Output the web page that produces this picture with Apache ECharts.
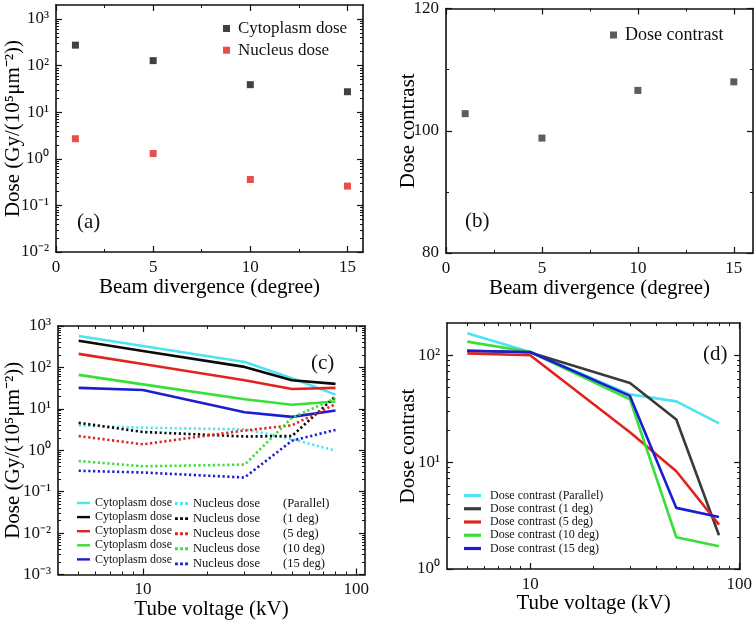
<!DOCTYPE html>
<html>
<head>
<meta charset="utf-8">
<script src="https://cdn.jsdelivr.net/npm/echarts@6/dist/echarts.min.js"></script>
<style>
  html, body { margin: 0; padding: 0; background: #fff; }
  #main { width: 755px; height: 621px; }
</style>
</head>
<body>
<div id="main"></div>
<script>
// panel (a) / (b): beam divergence
var divergence = [1, 5, 10, 15];
var cytoDoseA = [275, 128, 39, 27.5];
var nucDoseA = [2.7, 1.3, 0.36, 0.26];
var contrastB = [102.8, 98.8, 106.6, 108.0];

// panel (c) / (d): tube voltage
var voltage = [5, 10, 30, 50, 80];
var cytoParallel = [575, 329, 135, 55, 22];
var cyto1 = [440, 250, 103, 49, 40];
var cyto5 = [212, 121, 49, 30, 32];
var cyto10 = [66, 39, 17, 12.6, 15];
var cyto15 = [32, 28.6, 8.3, 6.4, 9.1];
var nucParallel = [4.0, 3.5, 3.2, 1.86, 0.98];
var nuc1 = [4.6, 2.76, 2.15, 2.2, 20];
var nuc5 = [2.2, 1.39, 3.0, 4.0, 13];
var nuc10 = [0.55, 0.41, 0.45, 6.1, 18];
var nuc15 = [0.32, 0.29, 0.22, 1.7, 3.1];
var contrastParallel = [160, 107, 43, 37, 23];
var contrast1 = [110, 106, 55, 25, 2.07];
var contrast5 = [104, 100, 19, 8.2, 2.6];
var contrast10 = [134, 107, 38.7, 1.98, 1.63];
var contrast15 = [110, 107, 41.6, 3.73, 3.07];

// ticks
var divTicks = [0, 5, 10, 15];
var divMinor = [2.5, 7.5, 12.5];
var doseTicks = [0.001, 0.01, 0.1, 1, 10, 100, 1000];
var contrastTicksB = [80, 100, 120];
var contrastMinorB = [90, 110];
var kvTicks = [10, 100];
var kvMinor = [5, 6, 7, 8, 9, 20, 30, 40, 50, 60, 70, 80, 90];
var contrastTicksD = [1, 10, 100];

var FONT = 'Liberation Serif';
var SUP = {'-': '\u207B', '0': '\u2070', '1': '\u00B9', '2': '\u00B2', '3': '\u00B3',
           '4': '\u2074', '5': '\u2075'};

var SOLID_ICON = 'path://M0,0h14v2.6h-14z';
var DOT_ICON = 'path://M0,0h2.6v2.6h-2.6zM4.6,0h2.6v2.6h-2.6zM9.2,0h2.6v2.6h-2.6z';

function pow10Label(v) {
    var e = String(Math.round(Math.log10(v)));
    var s = '';
    for (var i = 0; i < e.length; i++) s += SUP[e[i]];
    return '10' + s;
}

function logMinors(lo, hi) {
    var out = [];
    for (var d = lo; d < hi; d++) {
        for (var k = 2; k <= 9; k++) out.push(k * Math.pow(10, d));
    }
    return out;
}

function pairs(xs, ys) {
    return xs.map(function (x, i) { return [x, ys[i]]; });
}

// builds main + mirror axes (with a minor-tick twin for each side)
function axes(dim, grid, type, min, max, majors, minors, fmt, name, nameGap) {
    var sides = dim === 'x' ? ['bottom', 'top'] : ['left', 'right'];
    var out = [];
    sides.forEach(function (pos, i) {
        out.push({
            gridIndex: grid, type: type, min: min, max: max, position: pos,
            name: i === 0 ? name : '',
            nameLocation: 'middle', nameGap: nameGap, nameMoveOverlap: false,
            nameTextStyle: {fontFamily: FONT, fontSize: 21, color: '#000'},
            splitLine: {show: false},
            axisLine: {show: true, onZero: false, lineStyle: {color: '#111', width: 1.6}},
            axisTick: {show: true, inside: true, length: 6, customValues: majors,
                       lineStyle: {color: '#111', width: 1.2}},
            axisLabel: {show: i === 0, customValues: majors, formatter: fmt, margin: 7,
                        fontFamily: FONT, fontSize: 17, color: '#111'}
        });
        out.push({
            gridIndex: grid, type: type, min: min, max: max, position: pos,
            splitLine: {show: false},
            axisLine: {show: false, onZero: false},
            axisTick: {show: true, inside: true, length: 3, customValues: minors,
                       lineStyle: {color: '#111', width: 1}},
            axisLabel: {show: false}
        });
    });
    return out;
}

var plainFmt = function (v) { return String(v); };

var xAxes = [].concat(
    axes('x', 0, 'value', 0, 15.8, divTicks, divMinor, plainFmt, 'Beam divergence (degree)', 24.5),
    axes('x', 1, 'value', 0, 16, divTicks, divMinor, plainFmt, 'Beam divergence (degree)', 25),
    axes('x', 2, 'log', 4, 110, kvTicks, kvMinor, plainFmt, 'Tube voltage (kV)', 24.5),
    axes('x', 3, 'log', 4, 101, kvTicks, kvMinor, plainFmt, 'Tube voltage (kV)', 24)
);
var yAxes = [].concat(
    axes('y', 0, 'log', 0.01, 2000, doseTicks.slice(1), logMinors(-2, 3), pow10Label,
         'Dose (Gy/(10\u2075\u03BCm\u207B\u00B2))', 32),
    axes('y', 1, 'value', 80, 120, contrastTicksB, contrastMinorB, plainFmt, 'Dose contrast', 27.5),
    axes('y', 2, 'log', 0.001, 1000, doseTicks, logMinors(-3, 3), pow10Label,
         'Dose (Gy/(10\u2075\u03BCm\u207B\u00B2))', 34),
    axes('y', 3, 'log', 1, 200, contrastTicksD, logMinors(0, 2).filter(function (v) { return v < 200; }),
         pow10Label, 'Dose contrast', 28.5)
);

var C = {cyan: '#4fe3ef', black: '#0a0a0a', red: '#e1231d', green: '#36e036', blue: '#1c1cd2', grey: '#3a3a3a'};

function lineSeries(name, ax, ys, color, dotted) {
    return {
        name: name, type: 'line', xAxisIndex: ax, yAxisIndex: ax,
        data: pairs(voltage, ys), symbol: 'none', showSymbol: false,
        lineStyle: {color: color, width: 2.6, type: dotted ? [2.2, 2.6] : 'solid'},
        itemStyle: {color: color},
        animation: false
    };
}

var series = [
    {name: 'Cytoplasm dose', type: 'scatter', xAxisIndex: 0, yAxisIndex: 0,
     data: pairs(divergence, cytoDoseA), symbol: 'rect', symbolSize: 7, itemStyle: {color: '#111'}},
    {name: 'Nucleus dose', type: 'scatter', xAxisIndex: 0, yAxisIndex: 0,
     data: pairs(divergence, nucDoseA), symbol: 'rect', symbolSize: 7, itemStyle: {color: '#e1231d'}},
    {name: 'Dose contrast', type: 'scatter', xAxisIndex: 4, yAxisIndex: 4,
     data: pairs(divergence, contrastB), symbol: 'rect', symbolSize: 7, itemStyle: {color: '#333'}},

    lineSeries('Cytoplasm dose (Parallel)', 8, cytoParallel, C.cyan),
    lineSeries('Cytoplasm dose (1 deg)', 8, cyto1, C.black),
    lineSeries('Cytoplasm dose (5 deg)', 8, cyto5, C.red),
    lineSeries('Cytoplasm dose (10 deg)', 8, cyto10, C.green),
    lineSeries('Cytoplasm dose (15 deg)', 8, cyto15, C.blue),
    lineSeries('Nucleus dose (Parallel)', 8, nucParallel, C.cyan, true),
    lineSeries('Nucleus dose (1 deg)', 8, nuc1, C.black, true),
    lineSeries('Nucleus dose (5 deg)', 8, nuc5, C.red, true),
    lineSeries('Nucleus dose (10 deg)', 8, nuc10, C.green, true),
    lineSeries('Nucleus dose (15 deg)', 8, nuc15, C.blue, true),

    lineSeries('Dose contrast (Parallel)', 12, contrastParallel, C.cyan),
    lineSeries('Dose contrast (1 deg)', 12, contrast1, C.grey),
    lineSeries('Dose contrast (5 deg)', 12, contrast5, C.red),
    lineSeries('Dose contrast (10 deg)', 12, contrast10, C.green),
    lineSeries('Dose contrast (15 deg)', 12, contrast15, C.blue)
];

var degs = ['(Parallel)', '(1 deg)', '(5 deg)', '(10 deg)', '(15 deg)'];

function legendBase(extra) {
    var base = {
        orient: 'vertical', selectedMode: false, padding: 0,
        textStyle: {fontFamily: FONT, color: '#111'}
    };
    for (var k in extra) base[k] = extra[k];
    return base;
}

function iconItems(prefix, icon) {
    return degs.map(function (d) { return {name: prefix + d, icon: icon}; });
}

var legends = [
    legendBase({data: ['Cytoplasm dose', 'Nucleus dose'], left: 223, top: 20,
                itemWidth: 7, itemHeight: 7, itemGap: 4.7,
                textStyle: {fontFamily: FONT, fontSize: 17, color: '#111', padding: [0, 0, 0, 3]}}),
    legendBase({data: ['Dose contrast'], left: 610, top: 26, itemWidth: 7, itemHeight: 7,
                textStyle: {fontFamily: FONT, fontSize: 18, color: '#111', padding: [0, 0, 0, 3]}}),
    legendBase({data: iconItems('Cytoplasm dose ', SOLID_ICON),
                left: 77, top: 497, itemWidth: 13, itemHeight: 8, itemGap: 2.1,
                formatter: function () { return 'Cytoplasm dose'; },
                textStyle: {fontFamily: FONT, fontSize: 12, color: '#111'}}),
    legendBase({data: iconItems('Nucleus dose ', DOT_ICON),
                left: 175, top: 497, itemWidth: 13, itemHeight: 8, itemGap: 2.1,
                formatter: function (n) {
                    return '{a|Nucleus dose}{b|' + n.slice('Nucleus dose '.length) + '}';
                },
                textStyle: {fontFamily: FONT, fontSize: 12, color: '#111',
                            rich: {a: {fontFamily: FONT, fontSize: 12.5, width: 90},
                                   b: {fontFamily: FONT, fontSize: 12.5}}}}),
    legendBase({data: iconItems('Dose contrast ', SOLID_ICON),
                left: 464, top: 489.5, itemWidth: 17, itemHeight: 8, itemGap: 1.25,
                textStyle: {fontFamily: FONT, fontSize: 12, color: '#111', padding: [0, 0, 0, 4]}})
];

function panelLabel(text, left, top) {
    return {text: text, left: left, top: top, padding: 0,
            textStyle: {fontFamily: FONT, fontSize: 21, fontWeight: 'normal', color: '#111'}};
}

var option = {
    backgroundColor: '#fff',
    animation: false,
    title: [
        panelLabel('(a)', 77, 212),
        panelLabel('(b)', 465, 211),
        panelLabel('(c)', 311, 353),
        panelLabel('(d)', 703, 344)
    ],
    legend: legends,
    grid: [
        {left: 56, top: 5, width: 307, height: 247},
        {left: 446, top: 7, width: 307, height: 246},
        {left: 58, top: 326, width: 307, height: 251},
        {left: 447, top: 323, width: 298, height: 246}
    ],
    xAxis: xAxes,
    yAxis: yAxes,
    series: series
};

var chart = echarts.init(document.getElementById('main'));
chart.setOption(option);
</script>
</body>
</html>
